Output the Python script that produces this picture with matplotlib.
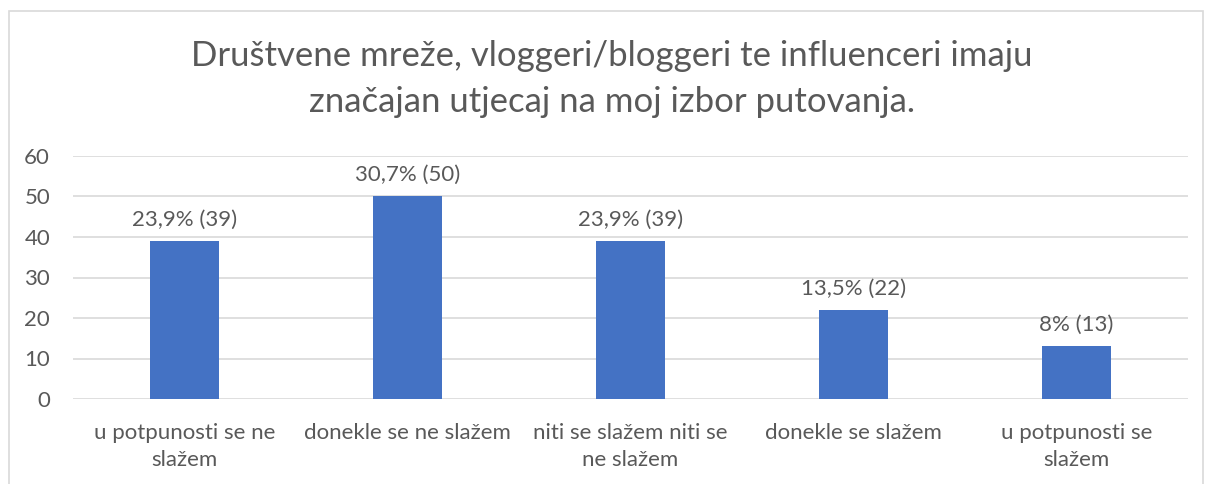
import matplotlib
matplotlib.use("Agg")
import matplotlib.pyplot as plt
from matplotlib.patches import Rectangle

categories = ["u potpunosti se ne\nslažem", "donekle se ne slažem", "niti se slažem niti se\nne slažem",
              "donekle se slažem", "u potpunosti se\nslažem"]
counts = [39, 50, 39, 22, 13]
labels = ["23,9% (39)", "30,7% (50)", "23,9% (39)", "13,5% (22)", "8% (13)"]
yticks = [0, 10, 20, 30, 40, 50, 60]

plt.rcParams['font.family'] = ['Lato', 'DejaVu Sans']
TXT = '#595959'
W, H = 1205, 484

fig = plt.figure(figsize=(W / 100, H / 100), dpi=100)
fig.patches.append(Rectangle((9 / W, -0.1), (1203 - 9) / W, 1.1 - 11 / H, transform=fig.transFigure,
                             fill=False, edgecolor='#D9D9D9', linewidth=1.2))

ax = fig.add_axes([73 / W, 1 - 399 / H, (1188 - 73) / W, (399 - 156) / H])
x = range(len(categories))
bars = ax.bar(x, counts, width=0.31, color='#4472C4', zorder=3)
for b, lab in zip(bars, labels):
    ax.text(b.get_x() + b.get_width() / 2, b.get_height() + 2.8, lab, ha='center', va='bottom',
            fontsize=16, color=TXT)

ax.set_xlim(-0.5, len(categories) - 0.5)
ax.set_ylim(0, 60)
ax.set_yticks(yticks)
ax.set_xticks(list(x))
ax.set_xticklabels(categories, fontsize=16, color=TXT, linespacing=1.45)
ax.tick_params(axis='y', labelsize=16, labelcolor=TXT, length=0, pad=16.5)
ax.tick_params(axis='x', length=0, pad=17)
ax.grid(axis='y', color='#D9D9D9', linewidth=1.2, zorder=0)
for s in ax.spines.values():
    s.set_visible(False)

fig.text(0.508, 1 - 79 / H, "Društvene mreže, vloggeri/bloggeri te influenceri imaju\nznačajan utjecaj na moj izbor putovanja.",
         ha='center', va='center', fontsize=25, color=TXT, linespacing=1.5)

fig.savefig("out.png", dpi=100)
